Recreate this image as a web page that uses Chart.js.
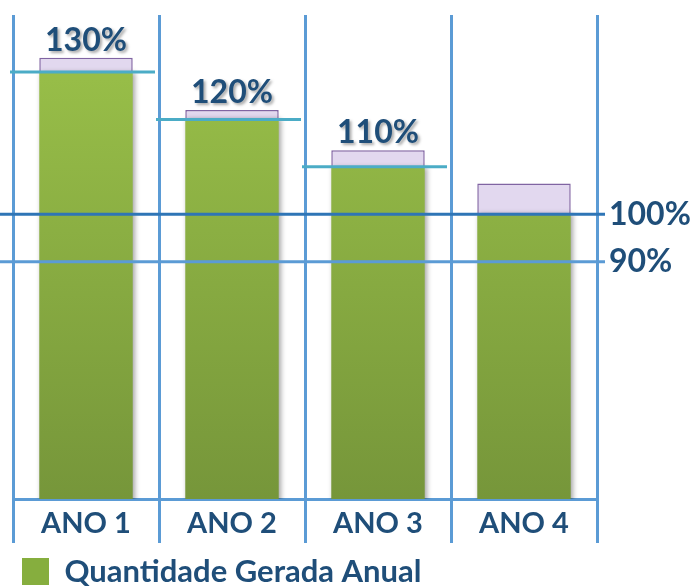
<!DOCTYPE html>
<html>
<head>
<meta charset="utf-8">
<script src="https://cdn.jsdelivr.net/npm/chart.js@4"></script>
<style>
  html, body { margin: 0; padding: 0; background: #fff; }
</style>
</head>
<body>
<canvas id="grafico" width="696" height="587"></canvas>
<script>
// Dados do gráfico
const categorias = ['ANO 1', 'ANO 2', 'ANO 3', 'ANO 4'];
const quantidade = [130, 120, 110, 100];
const excedente = [3, 2, 3.5, 6.5];
const rotulos = ['130%', '120%', '110%', ''];
const metas = [130, 120, 110];
const marcasDireita = [100, 90];

const azulEscuro = '#1F4E79';
const fonte = 'Lato';

// Degradê verde das barras
function verde(context) {
    const area = context.chart.chartArea;
    if (!area) return '#8DB43F';
    const g = context.chart.ctx.createLinearGradient(0, area.top, 0, area.bottom);
    g.addColorStop(0, '#9CC34A');
    g.addColorStop(1, '#76963A');
    return g;
}

// Degradê lilás do topo
function lilas(context) {
    const area = context.chart.chartArea;
    const el = context.element;
    if (!area || !el || !isFinite(el.y) || !isFinite(el.base) || el.y === el.base) return '#E2D8EF';
    const g = context.chart.ctx.createLinearGradient(0, el.y, 0, el.base);
    g.addColorStop(0, '#F0EAF7');
    g.addColorStop(1, '#D6C8E8');
    return g;
}

// Linhas de referência e rótulos de valor
const linhas = {
    id: 'linhas',
    beforeDatasetDraw(chart, args) {
        if (args.index === 0) {
            chart.ctx.save();
            chart.ctx.shadowColor = 'rgba(0,0,0,0.35)';
            chart.ctx.shadowBlur = 5;
            chart.ctx.shadowOffsetX = 2;
        }
    },
    afterDatasetDraw(chart, args) {
        if (args.index === 0) chart.ctx.restore();
    },
    afterDatasetsDraw(chart) {
        const { ctx, chartArea, scales: { x, y } } = chart;
        const meio = (x.getPixelForValue(1) - x.getPixelForValue(0)) / 2;
        ctx.save();
        ctx.lineWidth = 3;

        ctx.strokeStyle = '#4BACC6';
        metas.forEach((v, i) => {
            const py = y.getPixelForValue(v);
            const cx = x.getPixelForValue(i);
            ctx.beginPath();
            ctx.moveTo(cx - meio - 3, py);
            ctx.lineTo(cx + meio - 4, py);
            ctx.stroke();
        });

        marcasDireita.forEach(v => {
            const py = y.getPixelForValue(v);
            ctx.strokeStyle = v === 100 ? '#2E75B6' : '#5B9BD5';
            ctx.beginPath();
            ctx.moveTo(0, py);
            ctx.lineTo(chartArea.right + 8, py);
            ctx.stroke();
        });

        ctx.font = 'bold 32px ' + fonte;
        ctx.fillStyle = azulEscuro;
        ctx.textAlign = 'center';
        ctx.textBaseline = 'alphabetic';
        ctx.shadowColor = 'rgba(0,0,0,0.35)';
        ctx.shadowBlur = 3;
        ctx.shadowOffsetX = 2;
        ctx.shadowOffsetY = 2;
        const meta = chart.getDatasetMeta(1);
        meta.data.forEach((bar, i) => {
            if (rotulos[i]) ctx.fillText(rotulos[i], bar.x, bar.y - 7);
        });
        ctx.restore();
    }
};

const ctx = document.getElementById('grafico').getContext('2d');

new Chart(ctx, {
    type: 'bar',
    data: {
        labels: categorias,
        datasets: [
            {
                label: 'Quantidade Gerada Anual',
                data: quantidade,
                backgroundColor: verde,
                borderWidth: 0,
                barPercentage: 0.64,
                categoryPercentage: 1
            },
            {
                label: 'Excedente',
                data: excedente,
                backgroundColor: lilas,
                borderColor: '#8064A2',
                borderWidth: 1.5,
                barPercentage: 0.64,
                categoryPercentage: 1
            }
        ]
    },
    options: {
        responsive: false,
        animation: false,
        layout: { padding: { left: 13, top: 15, right: 0, bottom: -10 } },
        plugins: {
            tooltip: { enabled: false },
            legend: {
                position: 'bottom',
                align: 'start',
                labels: {
                    boxWidth: 27,
                    boxHeight: 27,
                    padding: 9,
                    color: azulEscuro,
                    font: { family: fonte, size: 31, weight: 'bold' },
                    generateLabels: () => [{
                        text: 'Quantidade Gerada Anual',
                        fillStyle: '#86AE3E',
                        strokeStyle: '#86AE3E',
                        lineWidth: 0,
                        fontColor: azulEscuro,
                        datasetIndex: 0
                    }]
                }
            }
        },
        scales: {
            x: {
                stacked: true,
                afterFit: s => {
                    s.height = 48;
                    s.paddingLeft = 0;
                    s.paddingRight = 0;
                },
                grid: {
                    color: '#5B9BD5',
                    lineWidth: 3,
                    tickLength: 44
                },
                border: { color: '#5B9BD5', width: 3 },
                ticks: {
                    padding: -37,
                    color: azulEscuro,
                    font: { family: fonte, size: 29, weight: 'bold' }
                }
            },
            y: {
                stacked: true,
                position: 'right',
                min: 40,
                max: 142,
                afterFit: s => {
                    s.width = 99;
                    s.paddingTop = 0;
                    s.paddingBottom = 0;
                },
                afterBuildTicks: s => { s.ticks = marcasDireita.map(v => ({ value: v })); },
                grid: { drawOnChartArea: false, drawTicks: false, tickLength: 0 },
                border: { display: false },
                ticks: {
                    padding: 12,
                    color: azulEscuro,
                    font: { family: fonte, size: 32, weight: 'bold' },
                    callback: v => v + '%'
                }
            }
        }
    },
    plugins: [linhas]
});
</script>
</body>
</html>
